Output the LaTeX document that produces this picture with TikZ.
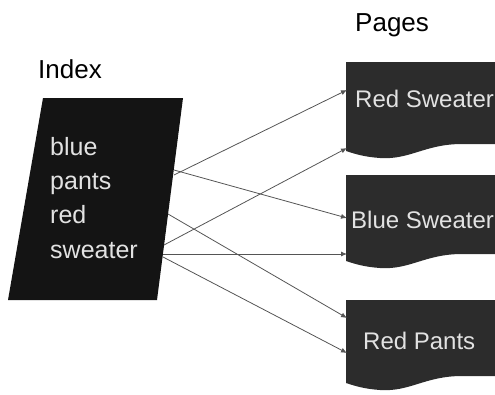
\documentclass[tikz,border=0pt]{standalone}
\usepackage{fontspec}
\setmainfont{Liberation Sans}
\usetikzlibrary{arrows.meta}

\definecolor{inkblack}{HTML}{141414}
\definecolor{pagegray}{HTML}{2C2C2C}
\definecolor{pagetext}{HTML}{E2E2E2}
\definecolor{linkgray}{HTML}{555555}

\tikzset{
  heading/.style={anchor=base west, inner sep=0pt, font=\fontsize{26}{26}\selectfont},
  word/.style={anchor=base west, inner sep=0pt, text=pagetext, font=\fontsize{25}{25}\selectfont},
  title/.style={anchor=base west, inner sep=0pt, text=pagetext, font=\fontsize{24}{24}\selectfont},
  pagefill/.style={fill=pagegray},
  link/.style={draw=linkgray, line width=0.8pt, -{Latex[length=6pt,width=5pt]}}
}

\begin{document}
\begin{tikzpicture}[x=1pt,y=-1pt]
\useasboundingbox (0,0) rectangle (495,394);

% index card
\fill[inkblack] (43,98) -- (183,98) -- (157,300) -- (8,300) -- cycle;
\node[heading] (index) at (38,78) {Index};
\node[word] (blue)    at (50,155) {blue};
\node[word] (pants)   at (50,189) {pants};
\node[word] (red)     at (50,223) {red};
\node[word] (sweater) at (50,258) {sweater};

% pages
\node[heading] (pages) at (355,31) {Pages};
\fill[pagefill] (346,62) -- (495,62) -- (495,144) -- (462,144)
  .. controls (425,144) and (410,160) .. (380,158)
  .. controls (365,157) and (355,154) .. (346,151) -- cycle;
\fill[pagefill] (346,175) -- (495,175) -- (495,254) -- (462,254)
  .. controls (425,254) and (410,270) .. (380,268)
  .. controls (365,267) and (355,264) .. (346,261) -- cycle;
\fill[pagefill] (346,300) -- (495,300) -- (495,376) -- (462,376)
  .. controls (425,376) and (410,392) .. (380,390)
  .. controls (365,389) and (355,386) .. (346,383) -- cycle;
\node[title] (redsw)  at (355,107) {Red Sweater};
\node[title] (bluesw) at (351,228) {Blue Sweater};
\node[title] (redpa)  at (363,349) {Red Pants};

% link ends
\coordinate (out-a) at (174,170);
\coordinate (out-b) at (174,175);
\coordinate (out-c) at (168,214);
\coordinate (out-d) at (164,245);
\coordinate (out-e) at (163,254);
\coordinate (out-f) at (163,257);
\coordinate (rs-top) at (347,90);
\coordinate (rs-low) at (347,148);
\coordinate (bs-top) at (347,218);
\coordinate (bs-low) at (347,254);
\coordinate (rp-top) at (347,318);
\coordinate (rp-low) at (347,353);

\draw[link] (out-b) -- (rs-top);
\draw[link] (out-a) -- (bs-top);
\draw[link] (out-c) -- (rp-top);
\draw[link] (out-d) -- (rs-low);
\draw[link] (out-e) -- (bs-low);
\draw[link] (out-f) -- (rp-low);

\end{tikzpicture}
\end{document}
